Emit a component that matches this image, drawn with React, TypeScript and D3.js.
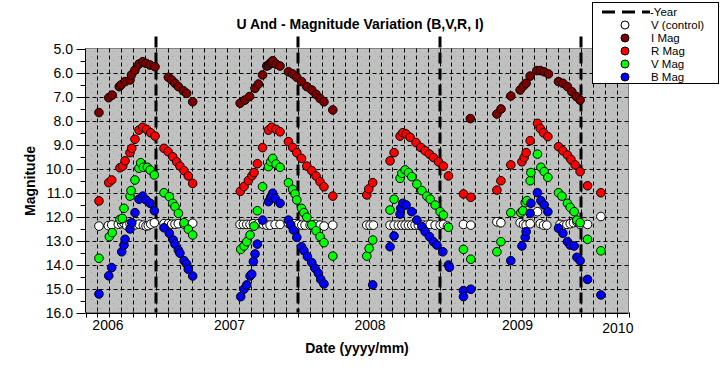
import React from 'react';
import * as d3 from 'd3';

// x = months from the left edge of the axis, y = magnitude
const yearLineMonths = [6, 18, 30, 42];
const xLabels = ['2006', '2007', '2008', '2009', '2010'];
const xLabelMonths = [1.9, 12.2, 24.1, 36.6, 45.1];
const yTicks = [5, 6, 7, 8, 9, 10, 11, 12, 13, 14, 15, 16];

const vControl: [number, number][] = [
  [1.14, 12.4], [1.93, 12.38], [2.22, 12.35], [2.78, 12.32], [3.07, 12.3], [3.26, 12.28], [3.49, 12.38], [3.77, 12.3],
  [4.19, 12.35], [4.53, 12.32], [4.9, 12.36], [5.13, 12.4], [5.32, 12.38], [5.53, 12.32], [5.83, 12.26],
  [6.65, 12.3], [7.02, 12.3], [7.3, 12.32], [7.58, 12.32], [7.86, 12.3], [8.35, 12.32], [8.71, 12.36], [9.08, 12.28],
  [13.09, 12.33], [13.37, 12.33], [13.66, 12.33], [13.94, 12.33], [14.22, 12.3], [14.64, 12.3], [15.07, 12.33],
  [15.36, 12.36], [15.64, 12.36], [16.06, 12.33], [16.48, 12.33], [17.19, 12.28], [17.39, 12.33], [17.75, 12.3],
  [18.03, 12.33], [18.32, 12.36], [18.6, 12.36], [19.03, 12.36], [19.45, 12.33], [19.87, 12.36], [20.21, 12.4], [20.95, 12.36],
  [23.83, 12.36], [24.11, 12.36], [24.39, 12.36],
  [25.8, 12.36], [26.14, 12.36], [26.5, 12.36], [26.8, 12.36], [27.08, 12.36], [27.36, 12.36], [27.64, 12.36], [27.92, 12.36],
  [28.2, 12.36], [28.58, 12.36], [28.92, 12.36], [29.2, 12.33], [29.62, 12.36], [30.04, 12.36], [30.32, 12.33], [30.66, 12.4],
  [32.02, 12.33], [32.64, 12.36],
  [34.85, 12.22], [35.19, 12.26],
  [36.82, 12.26], [37.1, 12.33], [37.33, 12.36], [37.67, 12.3], [38.29, 11.8], [38.52, 12.3], [38.8, 12.36], [39.08, 12.36],
  [40.2, 12.33], [40.49, 12.36], [40.78, 12.33], [41.06, 12.3], [41.34, 12.26], [41.63, 12.22], [41.9, 12.33], [42.53, 12.33], [43.66, 12.0],
];

const iMag: [number, number][] = [
  [1.14, 7.67], [1.97, 7.05], [2.27, 6.94], [2.86, 6.59], [3.0, 6.52], [3.35, 6.38], [3.77, 6.31], [3.9, 6.1], [4.19, 5.9],
  [4.53, 5.65], [4.85, 5.55], [5.13, 5.62], [5.47, 5.69], [5.89, 5.76],
  [7.02, 6.2], [7.3, 6.31], [7.58, 6.45], [7.87, 6.59], [8.29, 6.76], [8.57, 6.87], [9.08, 7.22],
  [13.1, 7.28], [13.5, 7.15], [13.9, 7.0], [14.36, 6.66], [14.65, 6.48], [15.0, 6.1], [15.36, 5.73], [15.5, 5.7],
  [15.64, 5.62], [15.75, 5.58], [15.86, 5.51], [16.14, 5.65], [16.48, 5.73],
  [17.19, 5.97], [17.55, 6.06], [17.9, 6.2], [18.3, 6.38], [18.75, 6.59], [19.17, 6.73], [19.53, 6.91], [19.87, 7.08],
  [20.2, 7.22], [20.95, 7.56],
  [32.6, 7.92],
  [34.85, 7.73], [35.2, 7.52], [36.03, 6.98], [36.82, 6.73], [37.1, 6.56], [37.33, 6.45], [37.67, 6.15], [38.24, 5.92],
  [38.52, 5.92], [38.86, 5.97], [39.22, 6.06],
  [40.07, 6.38], [40.44, 6.45], [40.83, 6.59], [41.2, 6.8], [41.57, 7.0], [41.9, 7.15],
];

const rMag: [number, number][] = [
  [1.14, 11.35], [1.97, 10.59], [2.22, 10.48], [2.92, 9.97], [3.15, 9.9], [3.35, 9.68], [3.77, 9.34], [3.92, 9.16],
  [4.19, 8.78], [4.53, 8.4], [4.85, 8.28], [5.18, 8.37], [5.52, 8.51], [5.89, 8.65],
  [6.65, 9.16], [7.0, 9.3], [7.39, 9.51], [7.73, 9.72], [8.0, 9.9], [8.35, 10.09], [8.71, 10.31], [9.08, 10.62],
  [13.12, 10.95], [13.43, 10.75], [13.8, 10.5], [14.1, 10.3], [14.28, 10.17], [14.56, 9.8], [15.0, 9.13], [15.5, 8.4],
  [15.78, 8.28], [16.14, 8.37], [16.48, 8.47],
  [17.19, 8.88], [17.55, 9.12], [17.9, 9.34], [18.3, 9.58], [18.75, 9.9], [19.17, 10.09], [19.53, 10.31], [19.87, 10.55],
  [20.2, 10.76], [20.95, 11.15],
  [23.83, 11.1], [24.0, 10.85], [24.33, 10.59],
  [25.8, 9.68], [26.14, 9.34], [26.65, 8.65], [26.88, 8.51], [27.16, 8.56], [27.5, 8.7], [28.0, 8.92], [28.4, 9.12],
  [28.77, 9.26], [29.14, 9.4], [29.47, 9.54], [29.9, 9.72], [30.32, 9.9], [30.75, 10.31],
  [32.02, 11.06], [32.64, 11.2],
  [34.85, 10.9], [35.19, 10.51], [36.03, 9.85], [36.97, 9.72], [37.16, 9.54], [37.33, 9.34], [37.67, 8.84], [38.29, 8.12],
  [38.52, 8.33], [38.8, 8.51], [39.17, 8.67],
  [40.07, 9.09], [40.44, 9.26], [40.83, 9.44], [41.12, 9.62], [41.48, 9.85], [41.9, 10.13], [42.53, 10.72], [43.66, 11.01],
];

const vMag: [number, number][] = [
  [1.14, 13.74], [2.02, 12.84], [2.27, 12.67], [2.92, 12.12], [3.12, 12.08], [3.26, 11.66], [3.77, 11.15], [3.86, 10.92],
  [4.19, 10.48], [4.53, 9.99], [4.68, 9.76], [4.9, 9.95], [5.24, 9.95], [5.47, 10.06], [5.83, 10.27],
  [6.65, 11.01], [7.1, 11.17], [7.39, 11.45], [7.58, 11.59], [7.87, 11.87], [8.35, 12.26], [8.71, 12.53], [9.08, 12.77],
  [13.15, 13.37], [13.43, 13.23], [13.66, 13.05], [13.94, 12.77], [14.28, 12.4], [14.56, 11.76], [15.0, 10.76], [15.5, 9.92],
  [15.69, 9.72], [15.86, 9.58], [16.14, 9.81], [16.48, 9.95],
  [17.19, 10.59], [17.55, 10.87], [17.75, 11.06], [17.9, 11.31], [18.3, 11.66], [18.5, 11.84], [18.75, 12.03], [19.17, 12.35],
  [19.53, 12.59], [19.87, 12.84], [20.2, 13.09], [20.95, 13.65],
  [23.83, 13.65], [24.03, 13.33], [24.33, 12.98],
  [25.8, 11.73], [26.14, 11.28], [26.65, 10.41], [26.8, 10.2], [27.08, 10.06], [27.36, 10.17], [27.64, 10.34], [28.07, 10.65],
  [28.49, 10.92], [28.92, 11.15], [29.2, 11.28], [29.62, 11.52], [30.04, 11.8], [30.32, 11.94], [30.75, 12.45],
  [32.02, 13.37], [32.64, 13.78],
  [34.85, 13.47], [35.19, 13.05], [36.03, 11.84], [36.88, 11.84], [37.05, 11.76], [37.25, 11.42], [37.39, 11.34], [37.67, 10.51],
  [37.73, 10.17], [38.29, 9.4], [38.58, 9.95], [38.86, 10.13], [39.17, 10.37],
  [40.07, 11.01], [40.36, 11.15], [40.83, 11.45], [41.06, 11.62], [41.4, 11.8], [41.63, 12.15], [41.9, 12.26], [42.53, 12.95], [43.66, 13.43],
];

const bMag: [number, number][] = [
  [1.14, 15.23], [1.97, 14.47], [2.22, 14.13], [3.07, 13.47], [3.26, 13.19], [3.35, 12.95], [3.77, 12.52], [3.92, 12.26],
  [4.19, 11.84], [4.53, 11.28], [4.85, 11.15], [5.13, 11.31], [5.47, 11.45], [5.83, 11.76],
  [6.65, 12.47], [7.1, 12.7], [7.44, 12.98], [7.58, 13.15], [7.87, 13.4], [8.0, 13.53], [8.35, 13.84], [8.57, 13.98],
  [8.71, 14.2], [9.08, 14.48],
  [13.15, 15.34], [13.43, 15.03], [13.66, 14.85], [13.94, 14.48], [14.08, 14.4], [14.22, 13.88], [14.36, 13.56], [14.56, 13.15],
  [15.0, 12.15], [15.5, 11.38], [15.69, 11.2], [15.86, 11.03], [16.06, 11.24], [16.48, 11.45],
  [17.19, 12.15], [17.39, 12.35], [17.61, 12.56], [17.9, 12.87], [18.3, 13.26], [18.5, 13.42], [18.8, 13.67], [19.17, 13.92],
  [19.45, 14.16], [19.73, 14.37], [19.93, 14.62], [20.2, 14.81],
  [24.33, 14.85],
  [25.8, 13.26], [26.14, 12.81], [26.65, 11.9], [26.71, 11.66], [26.88, 11.45], [27.16, 11.52], [27.64, 11.8], [28.07, 12.15],
  [28.49, 12.42], [28.77, 12.63], [29.14, 12.84], [29.47, 13.05], [29.76, 13.19], [30.27, 13.47], [30.75, 14.02], [30.83, 14.12],
  [32.02, 15.09], [32.02, 15.34], [32.64, 15.03],
  [36.03, 13.84], [36.97, 13.23], [37.25, 12.87], [37.33, 12.63], [37.67, 11.87], [37.73, 11.45], [38.29, 11.01], [38.58, 11.34],
  [38.86, 11.52], [39.17, 11.8],
  [40.07, 12.49], [40.44, 12.7], [40.83, 13.05], [41.06, 13.19], [41.4, 13.23], [41.63, 13.7], [41.9, 13.84], [42.53, 14.62], [43.66, 15.27],
];

const seriesNames = ['V (control)', 'I Mag', 'R Mag', 'V Mag', 'B Mag'];
const seriesColors = ['#ffffff', '#800000', '#ff0000', '#00ff00', '#0000ff'];
const seriesData = [vControl, iMag, rMag, vMag, bMag];

const W = 721;
const H = 384;
const font = '"Liberation Sans", Arial, sans-serif';

export default function App() {
  const x = d3.scaleLinear().domain([0, 46]).range([85.5, 628.5]);
  const y = d3.scaleLinear().domain([5, 16]).range([48.5, 312.5]);
  const [x0, x1] = x.range();
  const [y0, y1] = y.range();
  const months = d3.range(0, 47);
  const halfTicks = d3.range(5, 16.01, 0.5);
  const crisp = (v: number) => Math.round(v) + 0.5;

  return (
    <div style={{ position: 'fixed', left: 0, top: 0 }}>
      <svg width={W} height={H} style={{ display: 'block', background: '#fff' }} fontFamily={font}>
        <defs>
          <pattern id="dots" width="9" height="9" patternUnits="userSpaceOnUse">
            <rect width="9" height="9" fill="#c0c0c0" />
            <rect x="1" y="2" width="1" height="1" fill="#7fb07f" />
            <rect x="5" y="6" width="1" height="1" fill="#8fbf8f" />
          </pattern>
          <clipPath id="plot">
            <rect x={x0} y={y0} width={x1 - x0} height={y1 - y0} />
          </clipPath>
        </defs>

        <text x={360} y={29} textAnchor="middle" fontSize={14} fontWeight="bold">
          U And - Magnitude Variation (B,V,R, I)
        </text>

        <rect x={x0} y={y0} width={x1 - x0} height={y1 - y0} fill="url(#dots)" stroke="#808080" strokeWidth={1} />

        {/* gridlines */}
        <g stroke="#000" strokeWidth={1} strokeDasharray="4,3">
          {yTicks.slice(1, -1).map(t => (
            <line key={'h' + t} x1={x0} x2={x1} y1={crisp(y(t))} y2={crisp(y(t))} />
          ))}
          {months.slice(1, -1).map(m => (
            <line key={'v' + m} x1={crisp(x(m))} x2={crisp(x(m))} y1={y0} y2={y1} />
          ))}
        </g>

        {/* year markers */}
        <g stroke="#000" strokeWidth={3} strokeDasharray="11,5">
          {yearLineMonths.map(m => (
            <line key={m} x1={Math.round(x(m))} x2={Math.round(x(m))} y1={y0 - 12} y2={y1} />
          ))}
        </g>

        {/* axes */}
        <g stroke="#000" strokeWidth={1}>
          <line x1={crisp(x0) - 1} x2={crisp(x0) - 1} y1={y0} y2={y1} />
          <line x1={x0} x2={x1} y1={crisp(y1)} y2={crisp(y1)} />
          {halfTicks.map(t => (
            <line key={'yt' + t} x1={t % 1 === 0 ? x0 - 9 : x0 - 5} x2={x0} y1={crisp(y(t))} y2={crisp(y(t))} />
          ))}
          {months.map(m => (
            <line key={'xt' + m} x1={crisp(x(m))} x2={crisp(x(m))} y1={y1} y2={y1 + 5} />
          ))}
        </g>

        <g fontSize={14} fill="#000">
          {yTicks.map(t => (
            <text key={t} x={73} y={y(t) + 5} textAnchor="end">{t.toFixed(1)}</text>
          ))}
          {xLabels.map((l, i) => (
            <text key={l} x={x(xLabelMonths[i])} y={i === 4 ? 333 : 330} textAnchor="middle">{l}</text>
          ))}
        </g>

        <text x={357} y={353} textAnchor="middle" fontSize={14} fontWeight="bold">Date (yyyy/mm)</text>
        <text transform="translate(35,181) rotate(-90)" textAnchor="middle" fontSize={14} fontWeight="bold">Magnitude</text>

        {/* data */}
        <g clipPath="url(#plot)">
          {seriesData.map((data, si) => (
            <g key={si} fill={seriesColors[si]} stroke="#000" strokeWidth={1}>
              {data.map((d, i) => (
                <circle key={i} cx={x(d[0])} cy={y(d[1])} r={4.3} />
              ))}
            </g>
          ))}
        </g>

        {/* legend */}
        <g>
          <rect x={592.5} y={2.5} width={126} height={81} fill="#fff" stroke="#000" strokeWidth={1} />
          <line x1={602} x2={650} y1={12} y2={12} stroke="#000" strokeWidth={3} strokeDasharray="13,7" />
          <text x={650} y={16} fontSize={11.5}>-Year</text>
          {seriesNames.map((n, i) => (
            <g key={n}>
              <circle cx={625} cy={25 + i * 13} r={4} fill={seriesColors[i]} stroke="#000" strokeWidth={1} />
              <text x={651} y={29 + i * 13} fontSize={11.5}>{n}</text>
            </g>
          ))}
        </g>
      </svg>
    </div>
  );
}
